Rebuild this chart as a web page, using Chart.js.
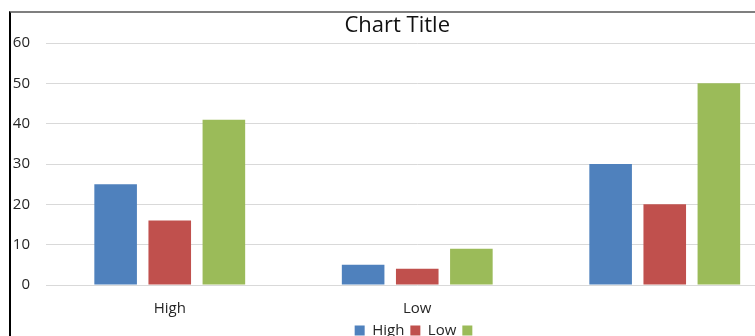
<!DOCTYPE html>
<html>
<head>
<meta charset="utf-8">
<title>Chart Title</title>
<script src="https://cdn.jsdelivr.net/npm/chart.js@4.4.0/dist/chart.umd.min.js"></script>
<style>
  html, body { margin: 0; padding: 0; background: #fff; overflow: hidden; width: 755px; height: 336px; }
  .frame {
    position: absolute; left: 9px; top: 11px;
    width: 790px; height: 340px;
    border-left: 2px solid #000; border-top: 2px solid #7f7f7f;
  }
  #myChart { position: absolute; left: -5px; top: 0; }
</style>
</head>
<body>
<div class="frame">
  <canvas id="myChart" width="785" height="335.5"></canvas>
</div>
<script>
// Values
const categories = ["High", "Low", ""];
const seriesNames = ["High", "Low", ""];
const highValues = [25, 5, 30];
const lowValues = [16, 4, 20];
const thirdValues = [41, 9, 50];
const yTicks = [0, 10, 20, 30, 40, 50, 60];

const seriesColors = ["#4F81BD", "#C0504D", "#9BBB59"];
const textColor = "#262626";
const fontFamily = "'Open Sans', sans-serif";

const data = {
  labels: categories,
  datasets: [highValues, lowValues, thirdValues].map((values, i) => ({
    label: seriesNames[i],
    data: values,
    backgroundColor: seriesColors[i],
    borderWidth: 0,
    categoryPercentage: 0.656,
    barPercentage: 0.787,
  })),
};

const config = {
  type: "bar",
  data: data,
  options: {
    responsive: false,
    animation: false,
    layout: {
      padding: { left: 0, right: 2.5, top: 0, bottom: 0 },
    },

    scales: {
      x: {
        grid: { display: false },
        border: { display: false },
        ticks: {
          padding: 7,
          color: textColor,
          font: { family: fontFamily, size: 15 },
        },
        afterFit: (scale) => {
          scale.height = 32;
        },
      },
      y: {
        min: 0,
        max: 60,
        grid: {
          color: "#d9d9d9",
          lineWidth: 1,
          drawTicks: false,
          tickLength: 0,
        },
        border: { display: false },
        ticks: {
          padding: 16,
          color: textColor,
          font: { family: fontFamily, size: 15 },
        },
        afterBuildTicks: (scale) => {
          scale.ticks = yTicks.map((v) => ({ value: v }));
        },
        afterFit: (scale) => {
          scale.width = 40;
        },
      },
    },

    plugins: {
      title: {
        display: true,
        text: "Chart Title",
        color: "#111",
        font: { family: fontFamily, size: 22, weight: "normal", lineHeight: 1.2 },
        padding: { top: 0, bottom: 3.6 },
      },
      legend: {
        position: "bottom",
        fullSize: false,
        labels: {
          boxWidth: 10,
          boxHeight: 10,
          padding: 6,
          color: textColor,
          font: { family: fontFamily, size: 15 },
        },
      },
      tooltip: { enabled: false },
    },
  },
};

const myChart = new Chart(document.getElementById("myChart"), config);
</script>
</body>
</html>
